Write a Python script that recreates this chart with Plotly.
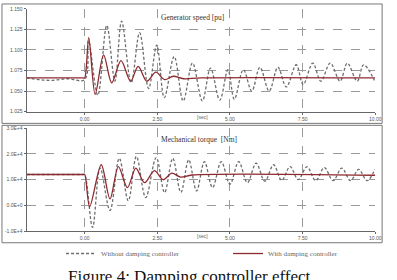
import plotly.graph_objects as go

W, H = 397, 280

# ---- Data ----
# Generator speed [pu]
speed_without_t = [-2.0, -1.2, -0.6, 0.0, 0.13, 0.45, 0.76, 1.04, 1.27, 1.60, 1.89, 2.20, 2.48, 2.74, 3.08, 3.39,
                   3.71, 4.05, 4.33, 4.65, 4.93, 5.15, 5.46, 5.75, 6.03, 6.35, 6.65, 6.94, 7.28, 7.52, 7.85,
                   8.13, 8.45, 8.79, 9.04, 9.38, 9.60, 9.97]
speed_without_v = [1.066, 1.063, 1.065, 1.064, 1.111, 1.045, 1.130, 1.062, 1.135, 1.060, 1.121, 1.053, 1.106, 1.042,
                   1.092, 1.038, 1.084, 1.038, 1.078, 1.039, 1.076, 1.040, 1.076, 1.050, 1.079, 1.050, 1.079,
                   1.055, 1.082, 1.058, 1.084, 1.062, 1.084, 1.062, 1.084, 1.062, 1.082, 1.063]
speed_with_t = [-2.0, -0.05, 0.0, 0.14, 0.36, 0.65, 0.93, 1.25, 1.58, 1.84, 2.14, 2.45, 2.75, 3.05, 3.40, 4.0, 10.0]
speed_with_v = [1.066, 1.066, 1.066, 1.115, 1.046, 1.094, 1.060, 1.087, 1.062, 1.080, 1.062, 1.073, 1.064, 1.068,
                1.065, 1.066, 1.066]

# Mechanical torque [Nm]
torque_without_t = [-2.0, -0.05, 0.0, 0.27, 0.53, 0.87, 1.19, 1.50, 1.78, 2.10, 2.46, 2.75, 3.03, 3.31, 3.58, 3.85,
                    4.12, 4.40, 4.70, 5.00, 5.30, 5.60, 5.90, 6.20, 6.50, 6.78, 7.07, 7.35, 7.65, 7.95, 8.25,
                    8.55, 8.85, 9.15, 9.43, 9.72, 9.99]
torque_without_v = [1.2e4, 1.2e4, 1.2e4, -0.86e4, 1.45e4, -0.2e4, 1.83e4, 0.18e4, 1.9e4, 0.3e4, 1.86e4, 0.5e4,
                    1.83e4, 0.5e4, 1.77e4, 0.56e4, 1.7e4, 0.69e4, 1.7e4, 0.82e4, 1.7e4, 0.88e4, 1.64e4, 0.94e4,
                    1.58e4, 0.97e4, 1.51e4, 1.0e4, 1.5e4, 0.96e4, 1.47e4, 0.96e4, 1.45e4, 0.96e4, 1.4e4,
                    0.96e4, 1.4e4]
torque_with_t = [-2.0, -0.05, 0.0, 0.17, 0.57, 0.87, 1.16, 1.47, 1.76, 2.06, 2.40, 2.70, 3.00, 3.30, 3.70, 10.0]
torque_with_v = [1.2e4, 1.2e4, 1.2e4, -0.05e4, 1.58e4, 0.25e4, 1.51e4, 0.69e4, 1.45e4, 0.88e4, 1.35e4, 1.0e4,
                 1.25e4, 1.1e4, 1.18e4, 1.17e4]

x_ticks = [0, 2.5, 5, 7.5, 10]
x_ticktext = ["0.00", "2.50", "5.00", "7.50", "10.00"]
speed_ticks = [1.025, 1.050, 1.075, 1.100, 1.125, 1.150]
speed_ticktext = ["1.025", "1.050", "1.075", "1.100", "1.125", "1.150"]
torque_ticks = [-1e4, 0, 1e4, 2e4, 3e4]
torque_ticktext = ["-1.0E+4", "0.0E+0", "1.0E+4", "2.0E+4", "3.0E+4"]

DASH_COLOR = "#6e6e6e"
SOLID_COLOR = "#8e2a2f"

def py(px):
    return 1 - px / H

def pxx(px):
    return px / W

fig = go.Figure()

dash_line = dict(color=DASH_COLOR, width=1.3, dash="3px,2px", shape="spline", smoothing=1.0)
solid_line = dict(color=SOLID_COLOR, width=1.3, shape="spline", smoothing=0.9)

fig.add_trace(go.Scatter(x=speed_without_t, y=speed_without_v, mode="lines", line=dash_line,
                         name="Without damping controller", xaxis="x", yaxis="y"))
fig.add_trace(go.Scatter(x=speed_with_t, y=speed_with_v, mode="lines", line=solid_line,
                         name="With damping controller", xaxis="x", yaxis="y"))
fig.add_trace(go.Scatter(x=torque_without_t, y=torque_without_v, mode="lines", line=dash_line,
                         showlegend=False, xaxis="x2", yaxis="y2"))
fig.add_trace(go.Scatter(x=torque_with_t, y=torque_with_v, mode="lines", line=solid_line,
                         showlegend=False, xaxis="x2", yaxis="y2"))

xdom = [pxx(27), pxx(381)]
tickfont = dict(family="Liberation Sans, Arial", size=5, color="#555")
common_x = dict(domain=xdom, range=[-2, 10], tickvals=x_ticks, ticktext=x_ticktext, showgrid=True,
                gridcolor="#9a9a9a", griddash="dash", gridwidth=1, showline=True, linecolor="#666",
                linewidth=1, ticks="outside", ticklen=2, tickcolor="#666", tickfont=tickfont,
                zeroline=False, mirror=False)
common_y = dict(showgrid=True, gridcolor="#9a9a9a", griddash="dash", gridwidth=1, showline=True,
                linecolor="#666", linewidth=1, ticks="outside", ticklen=2, tickcolor="#666",
                tickfont=tickfont, zeroline=False)

fig.update_layout(
    width=W, height=H, margin=dict(l=0, r=0, t=0, b=0),
    paper_bgcolor="white", plot_bgcolor="white",
    xaxis=dict(anchor="y", **common_x),
    yaxis=dict(domain=[py(111), py(6)], range=[1.025, 1.150], tickvals=speed_ticks,
               ticktext=speed_ticktext, anchor="x", **common_y),
    xaxis2=dict(anchor="y2", **common_x),
    yaxis2=dict(domain=[py(233), py(128)], range=[-1e4, 3e4], tickvals=torque_ticks,
                ticktext=torque_ticktext, anchor="x2", **common_y),
    showlegend=True,
    legend=dict(orientation="h", x=pxx(62), y=py(256), xanchor="left", yanchor="middle",
                font=dict(family="Liberation Serif", size=7, color="#666"),
                entrywidth=122, entrywidthmode="pixels", bgcolor="rgba(0,0,0,0)",
                itemwidth=30, tracegroupgap=0),
)

# panel frames
for y0, y1 in [(1, 123), (125, 245)]:
    fig.add_shape(type="rect", xref="paper", yref="paper", x0=pxx(2), x1=pxx(388),
                  y0=py(y1), y1=py(y0), line=dict(color="#777", width=1))

ann_font = dict(family="Liberation Serif", size=7.5, color="#333")
fig.add_annotation(text="Generator speed [pu]", xref="paper", yref="paper", x=pxx(161), y=py(15),
                   xanchor="left", yanchor="middle", showarrow=False, font=ann_font)
fig.add_annotation(text="Mechanical torque  [Nm]", xref="paper", yref="paper", x=pxx(161), y=py(139),
                   xanchor="left", yanchor="middle", showarrow=False, font=ann_font)
for yy in (117, 238):
    fig.add_annotation(text="[sec]", xref="paper", yref="paper", x=pxx(206), y=py(yy),
                       xanchor="center", yanchor="middle", showarrow=False,
                       font=dict(family="Liberation Sans", size=5, color="#666"))

fig.add_annotation(text="Figure 4: Damping controller effect", xref="paper", yref="paper",
                   x=pxx(192), y=py(268), xanchor="center", yanchor="top", showarrow=False,
                   font=dict(family="Liberation Serif", size=17, color="#111"))

fig.write_html("out.html")
